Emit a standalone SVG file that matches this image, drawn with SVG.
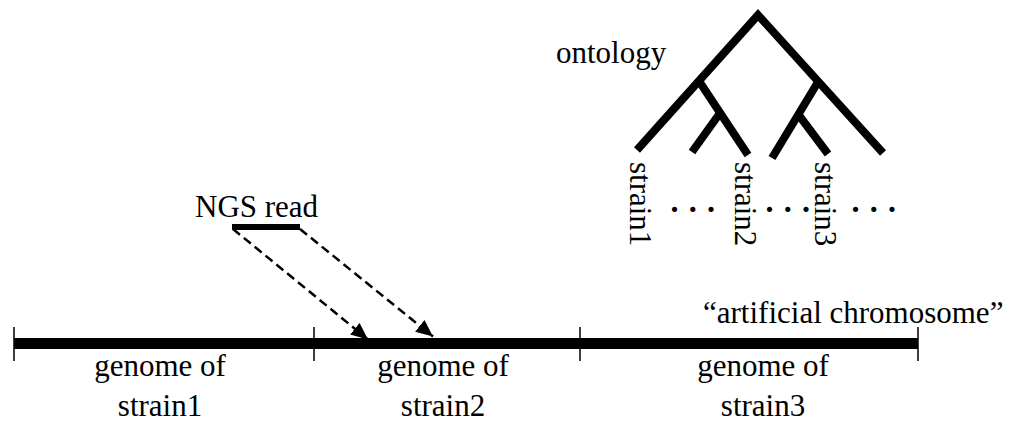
<svg xmlns="http://www.w3.org/2000/svg" width="1015" height="421" viewBox="0 0 1015 421">
  <style>
    text { font-family: "Liberation Serif", "Times New Roman", serif; font-size: 31px; fill: #000; }
    .mid { text-anchor: middle; }
    .dots { font-size: 44px; letter-spacing: 7.2px; }
    .tree { stroke: #000; stroke-width: 8; fill: none; stroke-linecap: butt; stroke-linejoin: miter; }
    .tick { stroke: #000; stroke-width: 1.5; }
    .bar { stroke: #000; stroke-width: 11; }
    .dash { stroke: #000; stroke-width: 2.5; stroke-dasharray: 9 5; fill: none; }
  </style>
  <defs>
    <marker id="arrow" markerUnits="userSpaceOnUse" markerWidth="18" markerHeight="16" refX="17" refY="7.5" orient="auto">
      <path d="M0,0 L17,7.5 L0,15 Z" fill="#000"/>
    </marker>
  </defs>
  <rect width="1015" height="421" fill="#fff"/>

  <g id="ontology">
    <text x="556" y="63">ontology</text>
    <polyline class="tree" points="637,150 758,15 883,153"/>
    <line class="tree" x1="699" y1="81" x2="748" y2="155"/>
    <line class="tree" x1="720" y1="113" x2="692" y2="152"/>
    <line class="tree" x1="818" y1="82" x2="772" y2="158"/>
    <line class="tree" x1="798" y1="114" x2="828" y2="154"/>
  </g>

  <g id="strain-labels">
    <text transform="translate(630,162) rotate(90)">strain1</text>
    <text transform="translate(735,162) rotate(90)">strain2</text>
    <text transform="translate(815,162) rotate(90)">strain3</text>
    <text class="dots" x="669" y="212">...</text>
    <text class="dots" x="764" y="212">...</text>
    <text class="dots" x="850" y="212">...</text>
  </g>

  <g id="ngs-read">
    <text x="195" y="217">NGS read</text>
    <line x1="232" y1="227" x2="300" y2="227" stroke="#000" stroke-width="6"/>
  </g>

  <g id="artificial-chromosome">
    <text x="703" y="323">“artificial chromosome”</text>
    <line class="bar" x1="14" y1="343.5" x2="918" y2="343.5"/>
    <line class="tick" x1="14" y1="327" x2="14" y2="361"/>
    <line class="tick" x1="314" y1="327" x2="314" y2="361"/>
    <line class="tick" x1="580" y1="327" x2="580" y2="361"/>
    <line class="tick" x1="918" y1="327" x2="918" y2="361"/>
  </g>

  <g id="genome-strain1">
    <text class="mid" x="160" y="376">genome of</text>
    <text class="mid" x="160" y="416">strain1</text>
  </g>
  <g id="genome-strain2">
    <text class="mid" x="443" y="376">genome of</text>
    <text class="mid" x="443" y="416">strain2</text>
  </g>
  <g id="genome-strain3">
    <text class="mid" x="763" y="376">genome of</text>
    <text class="mid" x="763" y="416">strain3</text>
  </g>

  <g id="connectors">
    <line class="dash" x1="233" y1="229" x2="368" y2="339.5" marker-end="url(#arrow)"/>
    <line class="dash" x1="300" y1="229" x2="433" y2="336.5" marker-end="url(#arrow)"/>
  </g>
</svg>
